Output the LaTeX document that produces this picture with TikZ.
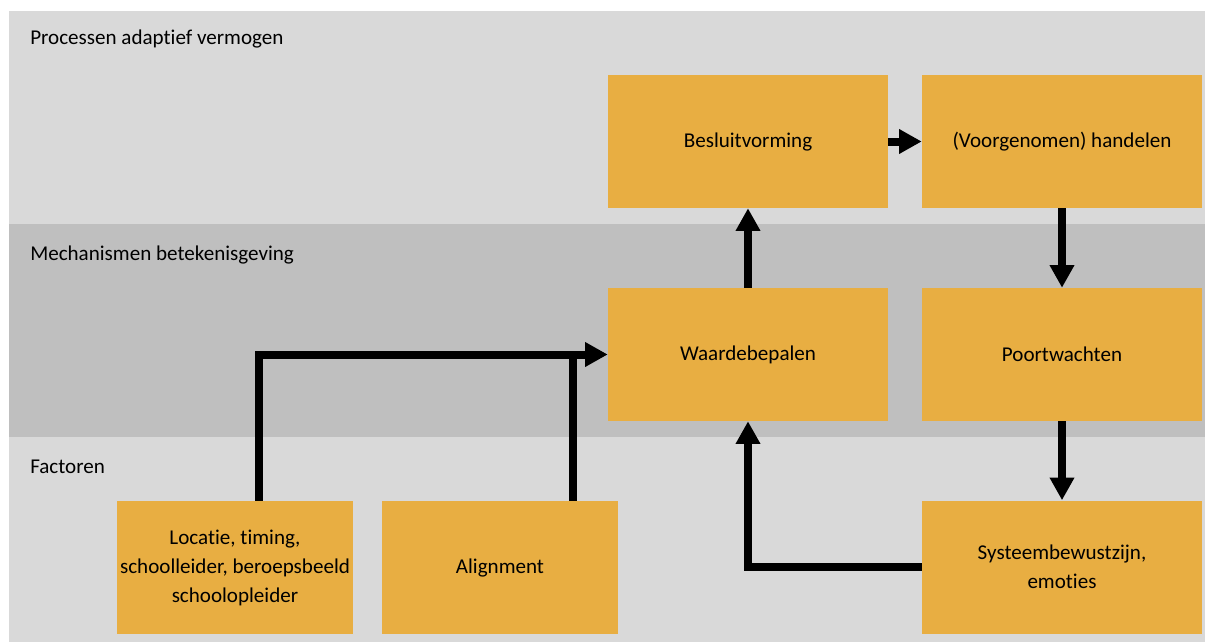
\documentclass[tikz,border=0pt]{standalone}
\usepackage{fontspec}
\setmainfont{Carlito}[Ligatures={NoCommon},RawFeature={-liga;-clig;-dlig}]
\usetikzlibrary{arrows.meta,calc}
\definecolor{bandlight}{HTML}{D9D9D9}
\definecolor{banddark}{HTML}{BFBFBF}
\definecolor{boxorange}{HTML}{E8AE42}
\tikzset{
  px/.style={x=0.75pt,y=-0.75pt},
  obox/.style={fill=boxorange,draw=none,inner sep=0pt,minimum width=210pt,minimum height=99.75pt,align=center,font=\fontsize{15.8}{21.75}\selectfont},
  sbox/.style={obox,minimum width=177pt},
  bandlabel/.style={anchor=base west,inner sep=0pt,font=\fontsize{15.8}{21.75}\selectfont},
  conn/.style={line width=6pt,line join=miter,draw=black},
  arr/.style={conn,-{Triangle[width=17.5pt,length=17pt]}}
}
\begin{document}
\begin{tikzpicture}[px]
\useasboundingbox (0,0) rectangle (1205,642);
\fill[white] (0,0) rectangle (1205,642);
% bands
\fill[bandlight] (9,11) rectangle (1205,224);
\fill[banddark] (9,224) rectangle (1205,437);
\fill[bandlight] (9,437) rectangle (1205,642);
\node[bandlabel] (l1) at (30,45) {Processen adaptief vermogen};
\node[bandlabel] (l2) at (30,260) {Mechanismen betekenisgeving};
\node[bandlabel] (l3) at (30,473) {Factoren};
% boxes
\node[obox] (besl) at (748,141.5) {Besluitvorming};
\node[obox] (hand) at (1062,141.5) {(Voorgenomen) handelen};
\node[obox] (waard) at (748,354.5) {Waardebepalen};
\node[obox] (poort) at (1062,354.5) {Poortwachten};
\node[obox] (sys) at (1062,567) {Systeembewustzijn,\\emoties};
\node[sbox] (loc) at (235,567.5) {Locatie, timing,\\schoolleider, beroepsbeeld\\schoolopleider};
\node[sbox] (ali) at (500,567.5) {Alignment};
% connectors
\draw[arr] (besl.east) -- (hand.west);
\draw[arr] (hand.south) -- (poort.north);
\draw[arr] (poort.south) -- (sys.north);
\draw[arr] (waard.north) -- (besl.south);
\draw[arr] (sys.west) -| (waard.south);
\draw[arr] ([xshift=18pt]loc.north) |- (waard.west);
\draw[conn] ([xshift=54.75pt]ali.north) -- ([xshift=54.75pt]ali.north |- waard.west);
\end{tikzpicture}
\end{document}
